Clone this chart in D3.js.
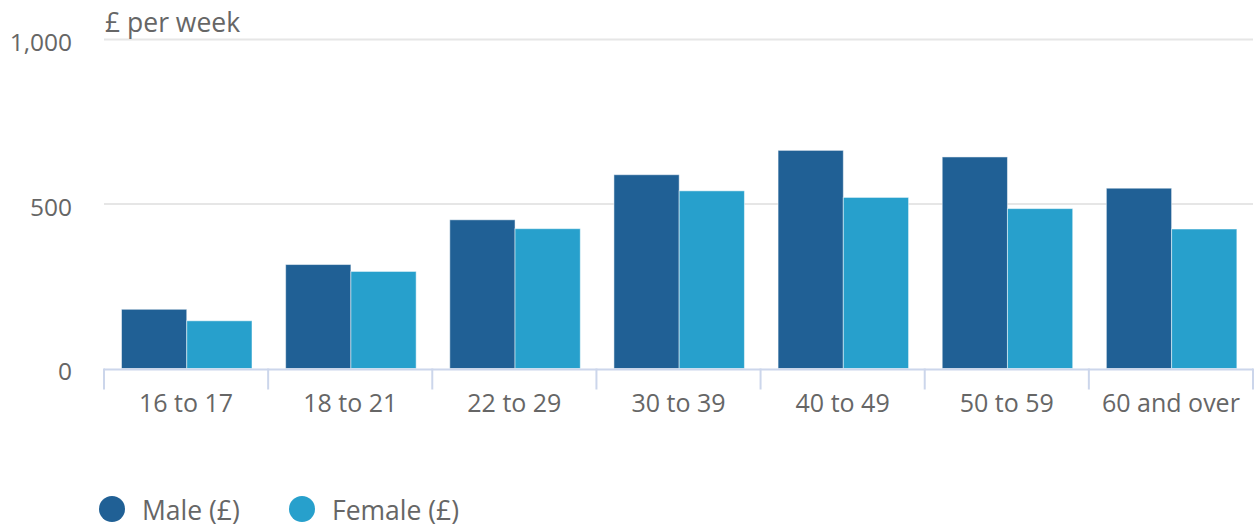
<!DOCTYPE html>
<html>
<head>
<meta charset="utf-8">
<script src="https://cdn.jsdelivr.net/npm/d3@7"></script>
<style>
  html, body { margin: 0; padding: 0; background: #fff; }
  svg { display: block; font-family: "Open Sans", sans-serif; }
</style>
</head>
<body>
<svg id="chart" width="1254" height="527"></svg>
<script>
// Weekly earnings by age band
const categories = ["16 to 17", "18 to 21", "22 to 29", "30 to 39", "40 to 49", "50 to 59", "60 and over"];
const maleValues = [180, 316, 452, 589, 663, 643, 548];
const femaleValues = [145, 295, 425, 540, 520, 486, 424];
const yTicks = [0, 500, 1000];
const seriesNames = ["Male (£)", "Female (£)"];
const seriesColors = ["#206095", "#27a0cc"];

const svg = d3.select("#chart");
const margin = { left: 104, right: 1253, top: 39.5, bottom: 368.5 };

const x = d3.scaleBand().domain(categories).range([margin.left, margin.right]).paddingInner(0).paddingOuter(0);
const y = d3.scaleLinear().domain([0, 1000]).range([margin.bottom, margin.top]);

// Gridlines
svg.append("g").selectAll("line").data(yTicks.filter(d => d > 0)).join("line")
  .attr("x1", margin.left).attr("x2", margin.right)
  .attr("y1", d => y(d)).attr("y2", d => y(d))
  .attr("stroke", "#e6e6e6").attr("stroke-width", 2);

// Y axis labels
const yAxis = d3.axisLeft(y).tickValues(yTicks).tickSize(0).tickPadding(0)
  .tickFormat(d3.format(","));
const yg = svg.append("g").attr("transform", `translate(72,0)`).call(yAxis);
yg.select(".domain").remove();
yg.selectAll("text").attr("font-size", 24.5).attr("fill", "#666").attr("font-family", "Open Sans")
  .attr("dy", "0.45em");

// Axis title
svg.append("text").attr("x", 105).attr("y", 32).attr("font-size", 26.5).attr("fill", "#666")
  .text("£ per week");

// Bars: two series side by side inside each age band
const inner = d3.scaleBand().domain([0, 1]).range([17.5, 148]).padding(0);
const series = [maleValues, femaleValues];
series.forEach((vals, si) => {
  svg.append("g").selectAll("rect").data(vals).join("rect")
    .attr("x", (d, i) => x(categories[i]) + inner(si))
    .attr("y", d => y(d))
    .attr("width", inner.bandwidth())
    .attr("height", d => y(0) - y(d))
    .attr("fill", seriesColors[si])
    .attr("stroke", "rgba(255,255,255,0.5)")
    .attr("stroke-width", 1);
});

// X axis
const xAxis = d3.axisBottom(x).tickSize(0).tickPadding(0);
const xg = svg.append("g").attr("transform", `translate(0,${y(0)})`).call(xAxis);
xg.select(".domain").remove();
xg.selectAll("text").attr("font-size", 25).attr("fill", "#666").attr("font-family", "Open Sans")
  .attr("y", 26).attr("dy", "0.71em");

// Baseline and category dividers
svg.append("line").attr("x1", margin.left).attr("x2", margin.right)
  .attr("y1", y(0) + 1).attr("y2", y(0) + 1)
  .attr("stroke", "#ccd6eb").attr("stroke-width", 2);
const bounds = categories.map(c => x(c)).concat([x(categories[categories.length - 1]) + x.bandwidth()]);
svg.append("g").selectAll("line").data(bounds).join("line")
  .attr("x1", d => Math.min(d, 1253)).attr("x2", d => Math.min(d, 1253))
  .attr("y1", y(0)).attr("y2", y(0) + 21)
  .attr("stroke", "#ccd6eb").attr("stroke-width", 2);

// Legend
const legendX = [112, 302];
const lg = svg.append("g");
seriesNames.forEach((name, i) => {
  lg.append("circle").attr("cx", legendX[i]).attr("cy", 509).attr("r", 13).attr("fill", seriesColors[i]);
  lg.append("text").attr("x", legendX[i] + 30).attr("y", 520).attr("font-size", 26.5).attr("fill", "#666")
    .text(name);
});
</script>
</body>
</html>
